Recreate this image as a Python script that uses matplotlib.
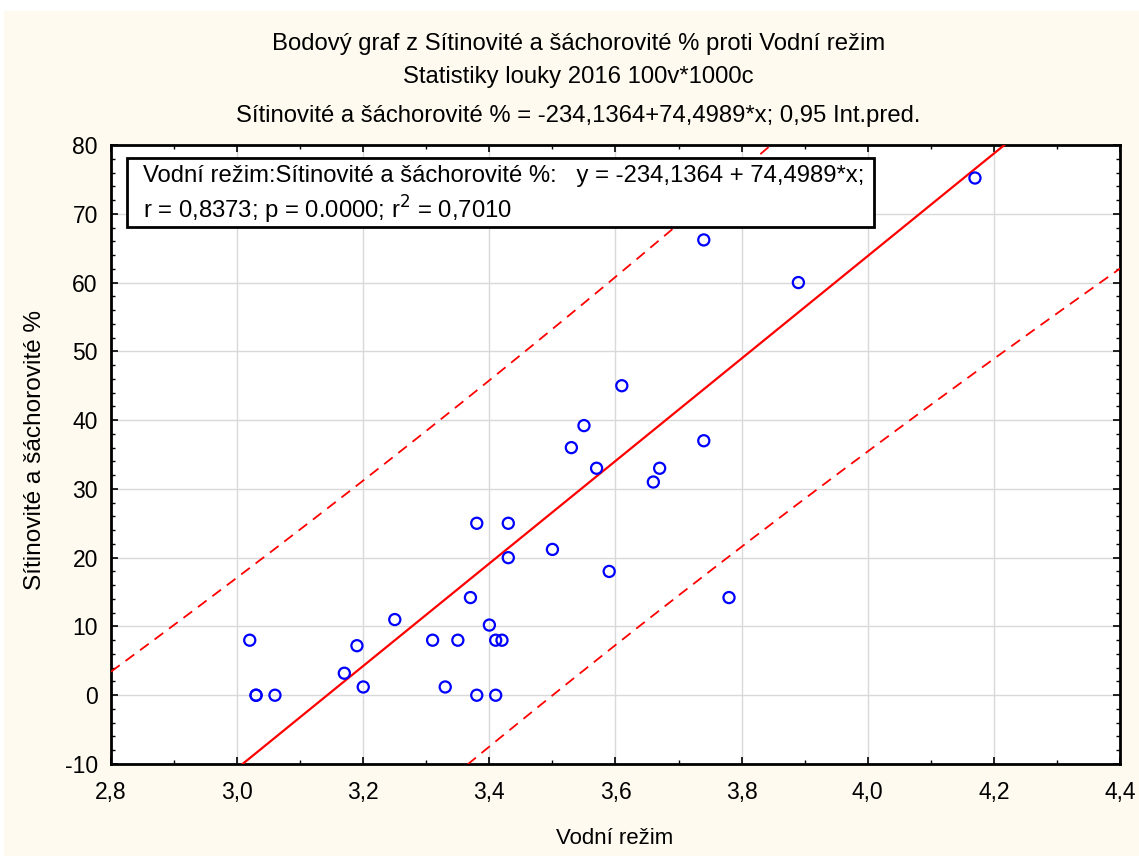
import numpy as np
import matplotlib

matplotlib.use("Agg")
import matplotlib.pyplot as plt
from matplotlib.patches import Rectangle
from matplotlib.ticker import MultipleLocator, FuncFormatter

plt.rcParams["font.family"] = ["Liberation Sans", "DejaVu Sans"]

# data (Vodní režim vs Sítinovité a šáchorovité %)
vodni = [3.02, 3.03, 3.03, 3.06, 3.17, 3.19, 3.20, 3.25, 3.31, 3.33, 3.35, 3.37,
         3.38, 3.38, 3.40, 3.41, 3.41, 3.42, 3.43, 3.43, 3.50, 3.53, 3.55, 3.57,
         3.59, 3.61, 3.66, 3.67, 3.74, 3.74, 3.78, 3.89, 4.17]
sitinovite = [8, 0, 0, 0, 3.2, 7.2, 1.2, 11, 8, 1.2, 8, 14.2,
              25, 0, 10.2, 8, 0, 8, 25, 20, 21.2, 36, 39.2, 33,
              18, 45, 31, 33, 37, 66.2, 14.2, 60, 75.2]

# reported fit statistics
intercept = -234.1364
slope = 74.4989
r = 0.8373
t_crit = 2.04  # 0,95 Int.pred., df = n - 2

C_BG = "#FFFAEF"
C_PT = "#0000FF"
C_LINE = "#FF0000"

x = np.array(vodni)
y = np.array(sitinovite)
n = len(x)
xm = x.mean()
sxx = np.sum((x - xm) ** 2)
# residual std from slope and r: s^2 = b^2 Sxx (1/r^2 - 1) / (n - 2)
s = np.sqrt(slope ** 2 * sxx * (1 / r ** 2 - 1) / (n - 2))

xs = np.linspace(2.8, 4.4, 200)
fit = intercept + slope * xs
half = t_crit * s * np.sqrt(1 + 1 / n + (xs - xm) ** 2 / sxx)

fig = plt.figure(figsize=(11.39, 8.56), dpi=100)
fig.patches.append(Rectangle((4 / 1139, 0), 1, 1 - 11 / 856, transform=fig.transFigure,
                             facecolor=C_BG, edgecolor="none", zorder=-10))
ax = fig.add_axes([111 / 1139, 92 / 856, 1009 / 1139, 619 / 856])
ax.set_facecolor("white")

ax.plot(xs, fit, color=C_LINE, lw=1.6, zorder=3)
ax.plot(xs, fit + half, color=C_LINE, lw=1.3, ls=(0, (6, 4)), zorder=3)
ax.plot(xs, fit - half, color=C_LINE, lw=1.3, ls=(0, (6, 4)), zorder=3)
ax.scatter(x, y, s=64, facecolors="none", edgecolors=C_PT, linewidths=1.6, zorder=4)

ax.set_xlim(2.8, 4.4)
ax.set_ylim(-10, 80)
ax.xaxis.set_major_locator(MultipleLocator(0.2))
ax.xaxis.set_minor_locator(MultipleLocator(0.1))
ax.yaxis.set_major_locator(MultipleLocator(10))
ax.yaxis.set_minor_locator(MultipleLocator(2))
ax.xaxis.set_major_formatter(FuncFormatter(lambda v, _: f"{v:.1f}".replace(".", ",")))
ax.yaxis.set_major_formatter(FuncFormatter(lambda v, _: f"{v:.0f}"))
ax.tick_params(which="both", direction="in", top=True, right=True, labelsize=16.5)
ax.tick_params(axis="x", pad=12.5)
ax.tick_params(axis="y", pad=9.5)
ax.tick_params(which="major", length=5, width=1.2)
ax.tick_params(which="minor", length=3, width=1)
ax.grid(True, which="major", color="#D9D9D9", lw=1)
ax.set_axisbelow(True)
for sp in ax.spines.values():
    sp.set_linewidth(2)

fig.text(615 / 1139, 1 - 838 / 856, "Vodní režim", ha="center", va="center", fontsize=16)
fig.text(35 / 1139, 1 - 450 / 856, "Sítinovité a šáchorovité %", ha="center", va="center",
         rotation=90, fontsize=17.6)

ax.text(0.0317, 0.968,
        "Vodní režim:Sítinovité a šáchorovité %:   y = -234,1364 + 74,4989*x;\n"
        "r = 0,8373; p = 0.0000; r$^2$ = 0,7010",
        transform=ax.transAxes, fontsize=17.2, va="top", ha="left", linespacing=1.3,
        zorder=6)
ax.add_patch(Rectangle((16 / 1009, (764 - 227) / 619), (874 - 127) / 1009, 69 / 619,
                       transform=ax.transAxes, facecolor="white", edgecolor="black",
                       lw=2, zorder=5))

fig.text(0.508, 1 - 44 / 856, "Bodový graf z Sítinovité a šáchorovité % proti Vodní režim",
         ha="center", va="center", fontsize=17.2)
fig.text(0.508, 1 - 77 / 856, "Statistiky louky 2016 100v*1000c", ha="center", va="center",
         fontsize=17.2)
fig.text(0.508, 1 - 116 / 856, "Sítinovité a šáchorovité % = -234,1364+74,4989*x; 0,95 Int.pred.",
         ha="center", va="center", fontsize=17.2)

fig.savefig("out.png", dpi=100, facecolor="white")
